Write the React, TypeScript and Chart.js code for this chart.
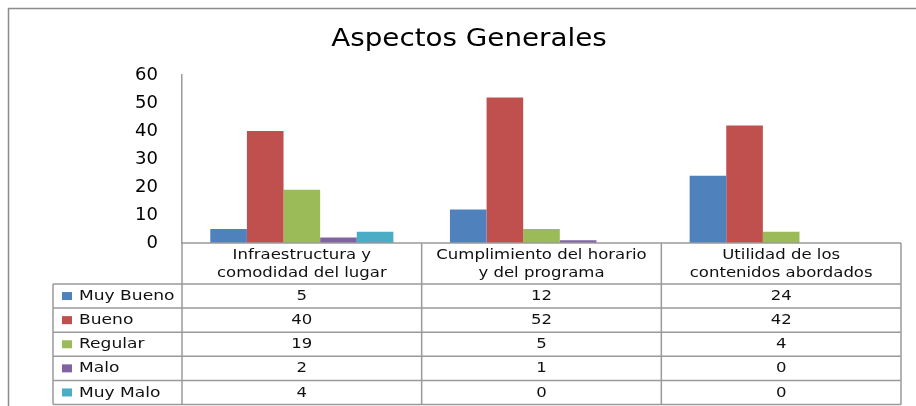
import React, { useEffect, useRef } from "react";
import { Chart, registerables } from "chart.js";

Chart.register(...registerables);

const titleText = "Aspectos Generales";
const categories = [
  ["Infraestructura y", "comodidad del lugar"],
  ["Cumplimiento del horario", "y del programa"],
  ["Utilidad de los", "contenidos abordados"],
];
const seriesNames = ["Muy Bueno", "Bueno", "Regular", "Malo", "Muy Malo"];
const muyBueno = [5, 12, 24];
const bueno = [40, 52, 42];
const regular = [19, 5, 4];
const malo = [2, 1, 0];
const muyMalo = [4, 0, 0];
const seriesValues = [muyBueno, bueno, regular, malo, muyMalo];
const seriesColors = ["#4F81BD", "#C0504D", "#9BBB59", "#8064A2", "#4BACC6"];
const yMin = 0;
const yMax = 60;
const yStep = 10;

const FONT = "'DejaVu Sans', sans-serif";
const LINE = "#9a9a9a";

function drawStretched(
  ctx: CanvasRenderingContext2D,
  text: string,
  x: number,
  y: number,
  size: number,
  sx: number,
  align: CanvasTextAlign
) {
  ctx.save();
  ctx.font = `${size}px ${FONT}`;
  ctx.textAlign = align;
  ctx.textBaseline = "middle";
  ctx.translate(x, y);
  ctx.scale(sx, 1);
  ctx.fillText(text, 0, 0);
  ctx.restore();
}

const tablePlugin = {
  id: "excelTable",
  afterDraw(chart: any) {
    const ctx: CanvasRenderingContext2D = chart.ctx;
    const ca = chart.chartArea;
    const xs = chart.scales.x;
    const W = chart.width;
    const H = chart.height;

    // frame
    ctx.save();
    ctx.strokeStyle = "#8c8c8c";
    ctx.lineWidth = 1.5;
    ctx.beginPath();
    ctx.moveTo(8, 8.5);
    ctx.lineTo(W, 8.5);
    ctx.moveTo(8.5, 8);
    ctx.lineTo(8.5, H);
    ctx.stroke();
    ctx.restore();

    // title
    ctx.save();
    ctx.fillStyle = "#000";
    ctx.font = `25px ${FONT}`;
    ctx.textAlign = "center";
    ctx.textBaseline = "alphabetic";
    ctx.translate(469, 45.5);
    ctx.scale(1.11, 1);
    ctx.fillText(titleText, 0, 0);
    ctx.restore();

    const n = categories.length;
    const step = xs.getPixelForValue(1) - xs.getPixelForValue(0);
    const edges: number[] = [];
    for (let i = 0; i < n; i++) edges.push(xs.getPixelForValue(i) - step / 2);
    edges.push(xs.getPixelForValue(n - 1) + step / 2);
    const right = edges[n];

    const headerTop = ca.bottom;
    const headerH = 41;
    const tableBottom = H - 1.5;
    const rowsTop = headerTop + headerH;
    const rowH = (tableBottom - rowsTop) / seriesNames.length;
    const rowHeaderLeft = 53;

    ctx.save();
    ctx.strokeStyle = LINE;
    ctx.lineWidth = 1.5;
    ctx.beginPath();
    // x axis line
    ctx.moveTo(ca.left, headerTop);
    ctx.lineTo(right, headerTop);
    // y axis extension
    ctx.moveTo(ca.left, headerTop);
    ctx.lineTo(ca.left, tableBottom);
    // column lines
    for (let i = 1; i <= n; i++) {
      ctx.moveTo(edges[i], headerTop);
      ctx.lineTo(edges[i], tableBottom);
    }
    // row lines
    for (let r = 0; r <= seriesNames.length; r++) {
      const yy = rowsTop + r * rowH;
      ctx.moveTo(rowHeaderLeft, yy);
      ctx.lineTo(right, yy);
    }
    ctx.moveTo(rowHeaderLeft, rowsTop);
    ctx.lineTo(rowHeaderLeft, tableBottom);
    ctx.stroke();
    ctx.restore();

    ctx.fillStyle = "#111";
    // header text
    for (let i = 0; i < n; i++) {
      const cx = (edges[i] + edges[i + 1]) / 2;
      drawStretched(ctx, categories[i][0], cx, headerTop + 12.5, 14, 1.18, "center");
      drawStretched(ctx, categories[i][1], cx, headerTop + 30, 14, 1.18, "center");
    }
    // rows
    for (let r = 0; r < seriesNames.length; r++) {
      const cy = rowsTop + r * rowH + rowH / 2;
      ctx.fillStyle = seriesColors[r];
      ctx.fillRect(62, cy - 4, 10, 8);
      ctx.fillStyle = "#111";
      drawStretched(ctx, seriesNames[r], 79, cy + 0.5, 14, 1.22, "left");
      for (let i = 0; i < n; i++) {
        const cx = (edges[i] + edges[i + 1]) / 2;
        drawStretched(ctx, String(seriesValues[r][i]), cx, cy + 0.5, 14, 1.18, "center");
      }
    }
  },
};

export default function App() {
  const ref = useRef<HTMLCanvasElement | null>(null);
  useEffect(() => {
    if (!ref.current) return;
    const chart = new Chart(ref.current, {
      type: "bar",
      data: {
        labels: categories.map((c) => c.join(" ")),
        datasets: seriesNames.map((name, i) => ({
          label: name,
          data: seriesValues[i],
          backgroundColor: seriesColors[i],
          borderWidth: 0,
          categoryPercentage: 0.764,
          barPercentage: 1,
        })),
      },
      options: {
        animation: false,
        responsive: false,
        devicePixelRatio: 1,
        layout: { padding: { top: 75, bottom: 163, left: 0, right: 15 } },
        plugins: {
          legend: { display: false },
          title: { display: false },
          tooltip: { enabled: false },
        },
        scales: {
          x: { display: false },
          y: {
            min: yMin,
            max: yMax,
            ticks: {
              stepSize: yStep,
              padding: 24,
              color: "#000",
              font: { family: FONT, size: 18 },
            },
            grid: { display: false, drawTicks: false },
            border: { display: true, color: LINE, width: 1.5 },
            afterFit: (s: any) => {
              s.width = 182;
            },
          },
        },
      },
      plugins: [tablePlugin],
    });
    return () => chart.destroy();
  }, []);
  return (
    <div style={{ position: "fixed", left: 0, top: 0, width: 916, height: 406, background: "#fff" }}>
      <canvas ref={ref} width={916} height={406} style={{ display: "block" }} />
    </div>
  );
}
